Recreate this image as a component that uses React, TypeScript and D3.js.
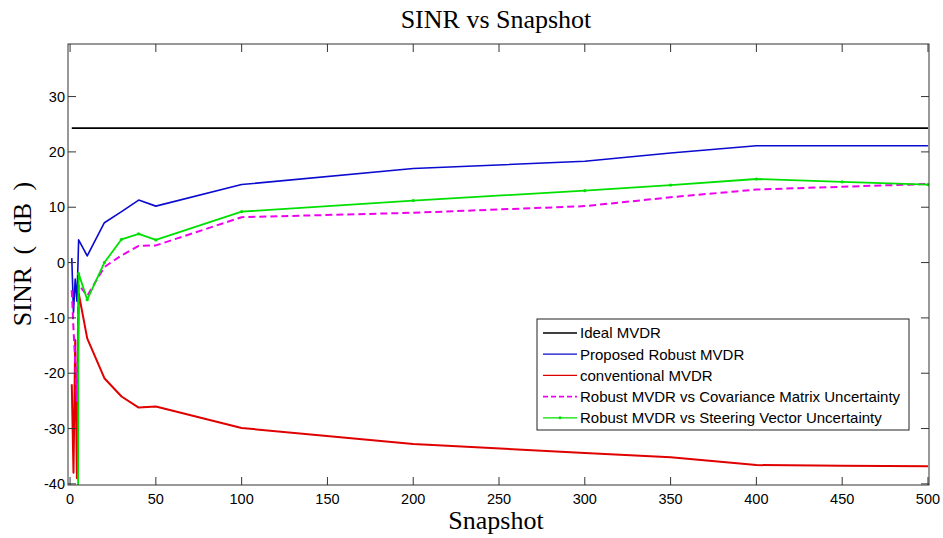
import React from 'react';
import { scaleLinear, line, range } from 'd3';

const width = 943;
const height = 538;
const margin = { top: 44, left: 68, right: 14, bottom: 53 };
const innerRight = width - margin.right;
const innerBottom = height - margin.bottom;

// snapshot counts on the x axis
const snapshots = [1, 2, 3, 4, 5, 10, 20, 30, 40, 50, 100, 200, 300, 350, 400, 450, 500];

// SINR (dB) per method
const ideal = [24.3, 24.3, 24.3, 24.3, 24.3, 24.3, 24.3, 24.3, 24.3, 24.3, 24.3, 24.3, 24.3, 24.3, 24.3, 24.3, 24.3];
const proposed = [0.8, -9, -3, -7, 4.1, 1.2, 7.2, 9.2, 11.3, 10.2, 14.1, 17, 18.3, 19.8, 21.1, 21.1, 21.1];
const conventional = [-22, -38, -14, -39, -5.5, -13.7, -20.9, -24.2, -26.2, -26, -29.9, -32.8, -34.4, -35.2, -36.6, -36.7, -36.8];
const covariance = [-5, -12, -18, -25, -4, -6, -0.8, 1.3, 3.0, 3.1, 8.2, 9.0, 10.2, 11.8, 13.2, 13.7, 14.2];
const steering = [-100, -100, -100, -120, -2, -6.7, 0, 4.2, 5.2, 4.1, 9.2, 11.2, 13, 14, 15.1, 14.6, 14.1];

const xTicks = range(0, 501, 50);
const yTicks = range(-40, 31, 10);

const series = [
  { name: 'Ideal MVDR', values: ideal, color: '#000000', width: 1.6, dash: null, marker: false },
  { name: 'Proposed Robust MVDR', values: proposed, color: '#0a0ad0', width: 1.6, dash: null, marker: false },
  { name: 'conventional MVDR', values: conventional, color: '#e00000', width: 2, dash: null, marker: false },
  { name: 'Robust MVDR vs Covariance Matrix Uncertainty', values: covariance, color: '#ee00ee', width: 2, dash: '7,4', marker: false },
  { name: 'Robust MVDR vs Steering Vector Uncertainty', values: steering, color: '#00e000', width: 1.8, dash: null, marker: true },
];

const sans = "'Liberation Sans', Arial, sans-serif";
const serif = "'Liberation Serif', 'Times New Roman', serif";

export default function App() {
  const x = scaleLinear().domain([-1.2, 500.6]).range([margin.left, innerRight]);
  const y = scaleLinear().domain([-40.2, 39.5]).range([innerBottom, margin.top]);

  const legendX = 537;
  const legendY = 319;
  const rowH = 21.2;

  return (
    <div style={{ position: 'absolute', left: 0, top: 0 }}>
      <svg width={width} height={height} style={{ display: 'block', background: '#fff' }}>
        <defs>
          <clipPath id="plot">
            <rect x={margin.left} y={margin.top} width={innerRight - margin.left} height={innerBottom - margin.top} />
          </clipPath>
        </defs>

        <text x={496} y={28} textAnchor="middle" fontFamily={serif} fontSize={26}>SINR vs Snapshot</text>

        <g clipPath="url(#plot)">
          {series.map(s => {
            const pts = snapshots.map((d, i) => [x(d), y(s.values[i])] as [number, number]);
            return (
              <g key={s.name}>
                <path d={line()(pts) || ''} fill="none" stroke={s.color} strokeWidth={s.width}
                  strokeDasharray={s.dash || undefined} strokeLinejoin="round" />
                {s.marker && pts.map((p, i) => <circle key={i} cx={p[0]} cy={p[1]} r={1.6} fill={s.color} />)}
              </g>
            );
          })}
        </g>

        <rect x={margin.left} y={margin.top} width={innerRight - margin.left} height={innerBottom - margin.top}
          fill="none" stroke="#333" strokeWidth={1} />

        {xTicks.map(t => (
          <g key={t}>
            <line x1={x(t)} x2={x(t)} y1={innerBottom} y2={innerBottom - 8} stroke="#333" />
            <line x1={x(t)} x2={x(t)} y1={margin.top} y2={margin.top + 8} stroke="#333" />
            <text x={x(t)} y={504} textAnchor="middle" fontFamily={sans} fontSize={14.5}>{t}</text>
          </g>
        ))}
        {yTicks.map(t => (
          <g key={t}>
            <line x1={margin.left} x2={margin.left + 8} y1={y(t)} y2={y(t)} stroke="#333" />
            <line x1={innerRight} x2={innerRight - 8} y1={y(t)} y2={y(t)} stroke="#333" />
            <text x={65} y={y(t)} dy="0.36em" textAnchor="end" fontFamily={sans} fontSize={14.5}>{t}</text>
          </g>
        ))}

        <text x={496} y={529} textAnchor="middle" fontFamily={serif} fontSize={26}>Snapshot</text>
        <text transform="translate(31,254) rotate(-90)" textAnchor="middle" fontFamily={serif} fontSize={26}
          wordSpacing={6}>SINR ( dB )</text>

        <rect x={legendX} y={legendY} width={372} height={111} fill="#fff" stroke="#222" strokeWidth={1} />
        {series.map((s, i) => {
          const cy = legendY + 14 + i * rowH;
          return (
            <g key={s.name}>
              <line x1={legendX + 6} x2={legendX + 40} y1={cy} y2={cy} stroke={s.color}
                strokeWidth={s.dash ? 1.6 : 1.3} strokeDasharray={s.dash ? '5,3' : undefined} />
              {s.marker && <circle cx={legendX + 23} cy={cy} r={1.5} fill={s.color} />}
              <text x={legendX + 43} y={cy} dy="0.36em" fontFamily={sans} fontSize={15}>{s.name}</text>
            </g>
          );
        })}
      </svg>
    </div>
  );
}
